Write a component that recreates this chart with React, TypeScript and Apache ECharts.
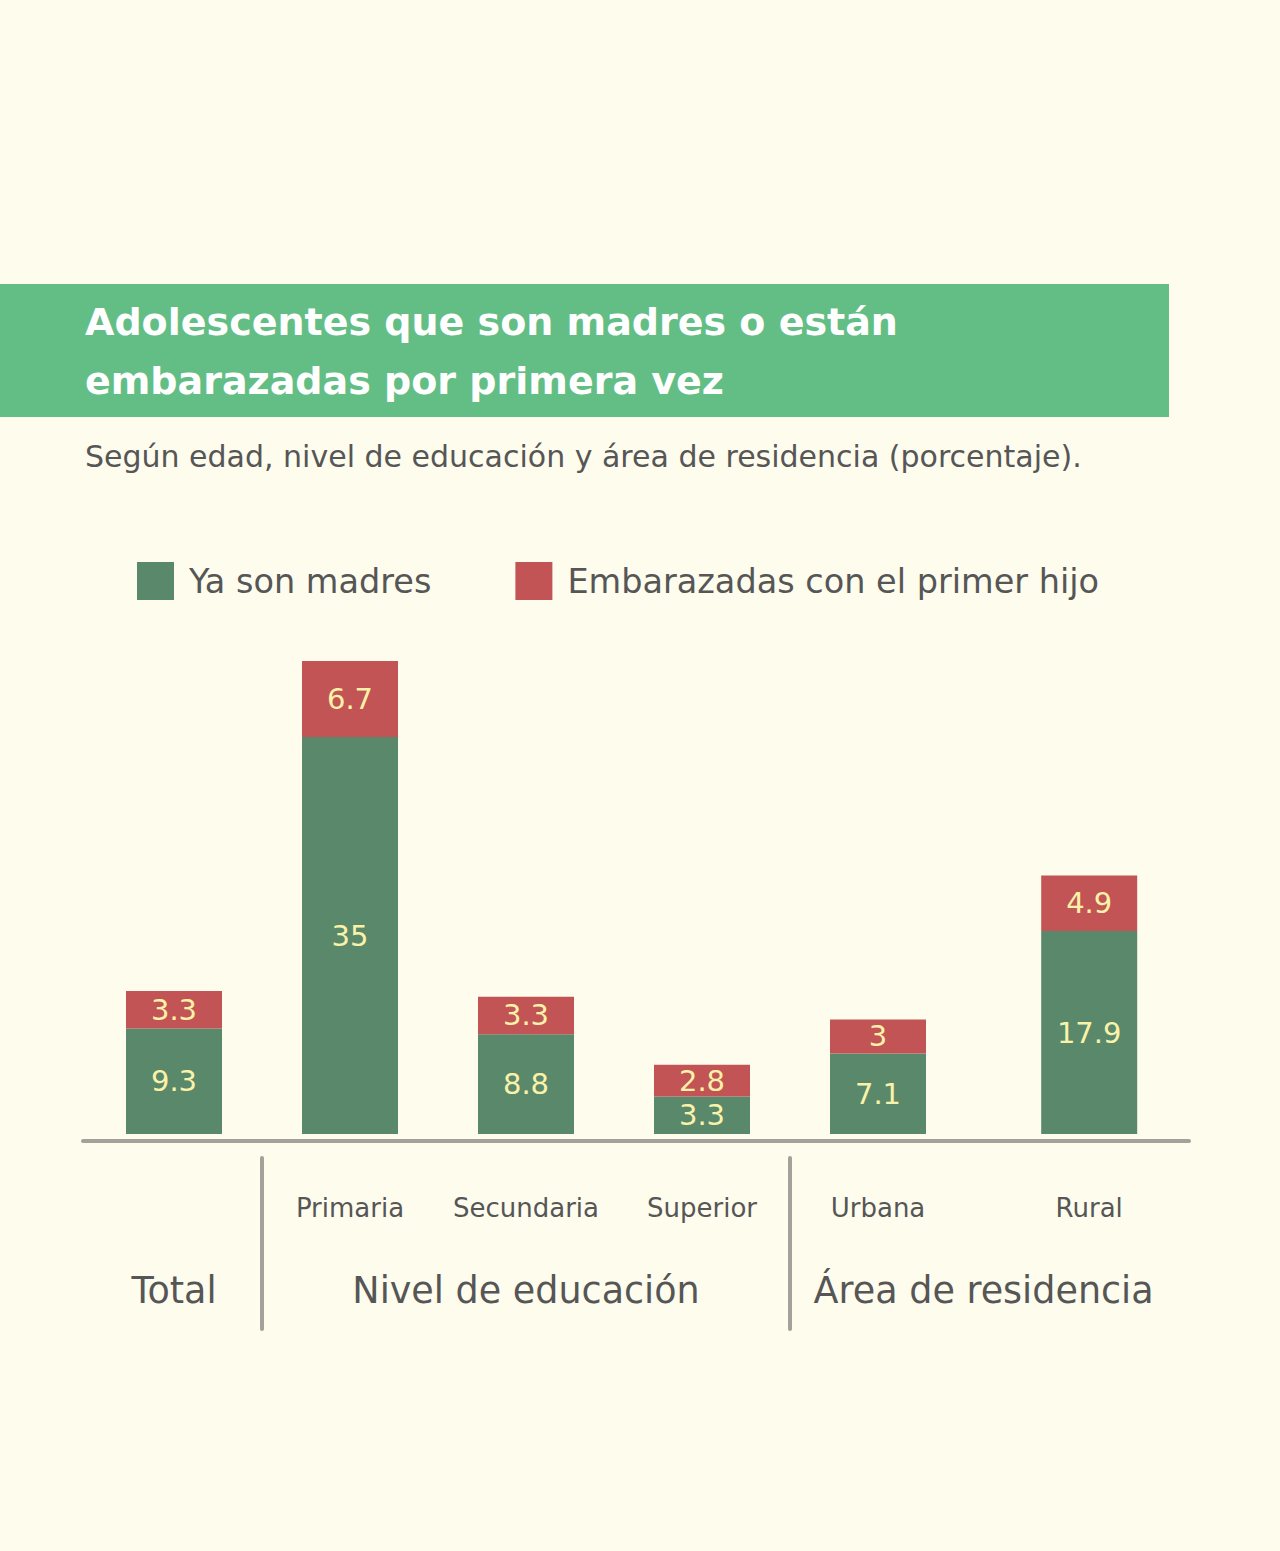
import React, { useEffect, useRef } from "react";
import * as echarts from "echarts";

const categories = ["Total", "Primaria", "Secundaria", "Superior", "Urbana", "Rural"];
const yaSonMadres = [9.3, 35, 8.8, 3.3, 7.1, 17.9];
const embarazadas = [3.3, 6.7, 3.3, 2.8, 3, 4.9];
const seriesNames = ["Ya son madres", "Embarazadas con el primer hijo"];
const groups = [
  { name: "Total", from: 0, to: 0 },
  { name: "Nivel de educación", from: 1, to: 3 },
  { name: "Área de residencia", from: 4, to: 5 },
];
const titleLines = ["Adolescentes que son madres o están", "embarazadas por primera vez"];
const subtitle = "Según edad, nivel de educación y área de residencia (porcentaje).";
// slot index of each category on a 27-slot category axis (uneven spacing as in the original)
const slots = [0, 5, 10, 15, 20, 26];
const SLOT_COUNT = 27;

const FONT = "'DejaVu Sans', 'Noto Sans', sans-serif";
const BG = "#FEFCED";
const GREEN = "#5A886B";
const RED = "#C25455";
const HEADER = "#63BE86";
const LABEL = "#FBF2A9";
const TEXT = "#565656";
const RULE = "#A3A19A";

export default function App() {
  const ref = useRef<HTMLDivElement>(null);
  useEffect(() => {
    if (!ref.current) return;
    const chart = echarts.init(ref.current, undefined, { renderer: "svg" });
    const axisData: string[] = [];
    for (let i = 0; i < SLOT_COUNT; i++) axisData.push("_" + i);
    const s1: any[] = new Array(SLOT_COUNT).fill("-");
    const s2: any[] = new Array(SLOT_COUNT).fill("-");
    categories.forEach((c, i) => {
      axisData[slots[i]] = c;
      s1[slots[i]] = yaSonMadres[i];
      s2[slots[i]] = embarazadas[i];
    });
    const barLabel = {
      show: true,
      position: "inside",
      color: LABEL,
      fontSize: 29,
      lineHeight: 30,
      fontFamily: FONT,
      formatter: (p: any) => String(p.value),
    };
    const baseGraphic: any[] = [
      { type: "rect", shape: { x: 0, y: 284, width: 1169, height: 133 }, style: { fill: HEADER } },
      ...titleLines.map((t, i) => ({
        type: "text",
        x: 85,
        y: 322 + i * 59,
        style: { text: t, fill: "#FFFFFF", font: `bold 38px ${FONT}`, textVerticalAlign: "middle" },
      })),
      {
        type: "text",
        x: 85,
        y: 456,
        style: { text: subtitle, fill: TEXT, font: `30px ${FONT}`, textVerticalAlign: "middle" },
      },
      {
        type: "line",
        shape: { x1: 83, y1: 1141, x2: 1189, y2: 1141 },
        style: { stroke: RULE, lineWidth: 4, lineCap: "round" },
      },
    ];
    chart.setOption({
      animation: false,
      backgroundColor: BG,
      legend: {
        left: 137,
        top: 562,
        padding: 0,
        itemWidth: 37,
        itemHeight: 38,
        itemGap: 84,
        icon: "rect",
        data: seriesNames,
        textStyle: { fontSize: 33.5, color: TEXT, fontFamily: FONT, padding: [0, 0, 0, 10] },
      },
      grid: { left: 156.4, right: 173.2, top: 623.7, bottom: 417 },
      xAxis: {
        type: "category",
        data: axisData,
        axisLine: { show: false },
        axisTick: { show: false },
        axisLabel: {
          interval: 0,
          margin: 61,
          fontSize: 26,
          color: TEXT,
          fontFamily: FONT,
          formatter: (v: string) => (v.startsWith("_") || v === "Total" ? "" : v),
        },
      },
      yAxis: { type: "value", min: 0, max: 45, show: false },
      series: [
        { name: seriesNames[0], type: "bar", stack: "a", barWidth: 96, clip: false, data: s1, itemStyle: { color: GREEN }, label: barLabel },
        { name: seriesNames[1], type: "bar", stack: "a", barWidth: 96, clip: false, data: s2, itemStyle: { color: RED }, label: barLabel },
      ],
      graphic: baseGraphic,
    });
    const px = (i: number) => chart.convertToPixel({ xAxisIndex: 0 }, axisData[slots[i]]) as number;
    const extra: any[] = [];
    groups.forEach((g, gi) => {
      const cx = (px(g.from) + px(g.to)) / 2;
      extra.push({
        type: "text",
        x: cx,
        y: 1290,
        style: { text: g.name, fill: TEXT, font: `36.5px ${FONT}`, textAlign: "center", textVerticalAlign: "middle" },
      });
      if (gi > 0) {
        const sx = (px(groups[gi - 1].to) + px(g.from)) / 2;
        extra.push({
          type: "line",
          shape: { x1: sx, y1: 1158, x2: sx, y2: 1329 },
          style: { stroke: RULE, lineWidth: 4, lineCap: "round" },
        });
      }
    });
    chart.setOption({ graphic: [...baseGraphic, ...extra] });
    return () => chart.dispose();
  }, []);
  return <div ref={ref} style={{ position: "absolute", left: 0, top: 0, width: 1280, height: 1551 }} />;
}
